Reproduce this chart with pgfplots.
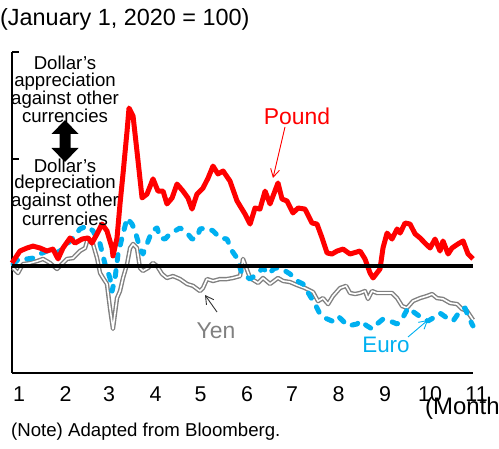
\documentclass[border=0pt]{standalone}
\usepackage{fontspec}
\setmainfont{Liberation Sans}
\usepackage{pgfplots}
\pgfplotsset{compat=1.18}
\usetikzlibrary{arrows.meta}
\definecolor{eurob}{RGB}{0,176,240}
\definecolor{yeng}{RGB}{128,128,128}
\begin{document}
\begin{tikzpicture}
\useasboundingbox (0,0) rectangle (499bp,449bp);
\begin{axis}[
  at={(12bp,76bp)}, anchor=south west,
  scale only axis, width=461bp, height=321bp,
  xmin=0, xmax=307.3, ymin=95, ymax=110,
  clip=false,
  axis x line*=bottom, axis y line*=left,
  axis line style={line width=1.5bp, black},
  xtick={0,31,60,91,121,152,182,213,244,274,305},
  xticklabels={1,2,3,4,5,6,7,8,9,10,11},
  x tick style={draw=none},
  xticklabel style={font=\fontsize{21.5}{24}\selectfont, xshift=7bp, yshift=-10bp},
  ytick={95,100,105,110}, yticklabels={},
  y tick style={line width=1.5bp, black},
  major tick length=7bp, tick align=inside,
]
% Yen
\addplot[draw=yeng, line width=1.4bp, double=white, double distance=1.6bp, line join=round] table {
0.7 99.91
4 99.67
7.3 100.09
12 100.14
16.7 100.23
20.7 100.33
25.3 100.14
30 99.86
33.3 100.09
36.7 100.33
40.7 100.37
45.3 100.70
48.7 100.84
50.7 101.31
54 101.03
56.7 100.37
58.7 99.67
60.7 99.44
63.3 99.16
65.3 98.04
67.3 97.06
70 98.50
72 98.83
74 99.44
76.7 100.09
78.7 100.84
80.7 101.03
83.3 100.84
85.3 99.91
87.3 99.77
90.7 99.91
94 100.14
96.7 100.00
100 99.63
103.3 99.44
107.3 99.53
112 99.39
116.7 99.16
120.7 99.07
125.3 98.83
127.3 98.97
130 99.39
134 99.30
138.7 99.39
143.3 99.39
147.3 99.44
152 99.53
154 100.33
156 99.95
158.7 99.44
164 99.21
167.3 99.44
172 99.16
177.3 99.44
180.7 99.30
185.3 99.25
190 99.11
195.3 98.97
200.7 98.78
204 98.36
207.3 98.50
210.7 98.22
214 98.60
218.7 98.97
222.7 99.07
225.3 98.74
228.7 98.69
232 98.74
235.3 98.83
237.3 98.46
240 98.83
243.3 98.74
247.3 98.74
253.3 98.74
256.7 98.50
260 98.13
263.3 98.04
267.3 98.36
272 98.50
276.7 98.60
280 98.69
283.3 98.50
287.3 98.46
292 98.27
296.7 98.22
300 97.99
303.3 97.90
307.3 97.48
};
% Euro
\addplot[draw=eurob, line width=5bp, line cap=round, line join=round, dash pattern=on 6bp off 10bp] table {
0.7 100.09
5.3 100.37
10 100.33
14 100.37
18.7 100.56
23.3 100.70
27.3 100.56
32 100.70
36.7 101.03
40.7 101.31
45.3 101.73
50 101.87
54 101.64
58.7 101.03
62 100.09
65.3 99.44
66.7 98.83
68.7 99.44
70.7 100.56
73.3 101.31
76.7 102.24
80 101.96
82 101.64
85.3 100.84
87.3 100.56
90 101.03
93.3 101.64
96.7 101.78
98.7 101.31
102 101.26
105.3 101.50
108.7 101.64
112 101.78
116.7 101.54
120 101.26
123.3 101.31
125.3 101.73
130 101.78
134 101.64
138.7 101.31
143.3 101.26
146.7 100.70
150 100.37
153.3 99.63
158.7 99.39
163.3 99.63
167.3 99.91
170.7 99.63
175.3 99.91
180 99.86
185.3 99.63
190 99.30
194 99.16
198.7 98.60
202 98.22
205.3 97.76
208.7 97.57
213.3 97.43
217.3 97.66
224 97.20
230 97.29
232 97.43
236.7 97.20
240 97.06
243.3 97.29
247.3 97.52
252 97.43
256.7 97.29
260 97.52
264 98.04
268.7 97.80
273.3 97.57
277.3 97.43
280.7 97.57
285.3 97.80
290 97.57
294 97.43
298.7 97.90
302 98.04
304 97.66
307.3 97.20
};
% Pound
\addplot[draw=red, line width=5bp, line join=round] table {
0 100.14
5.3 100.70
10 100.84
14 100.93
18.7 100.84
23.3 100.70
27.3 100.79
30.7 100.33
34 100.84
38.7 101.31
42 101.07
46.7 101.26
50.7 101.31
53.3 101.07
56.7 101.50
60 101.96
63.3 101.64
66.7 100.84
67.3 100.47
70 101.31
72 102.90
74 104.30
76.7 106.31
78 107.38
80.7 107.01
83.3 105.37
86.7 103.18
90 103.36
94 104.07
97.3 103.50
100.7 103.50
103.3 102.90
106.7 103.18
110 103.83
114 103.50
117.3 103.18
120 102.66
123.3 103.36
127.3 103.64
130.7 104.11
134 104.67
137.3 104.30
140.7 104.44
145.3 103.97
150 103.04
155.3 102.43
158.7 101.96
162 102.71
165.3 102.66
168.7 103.50
172 102.90
177.3 103.88
180 103.13
183.3 103.04
187.3 102.48
190.7 102.71
195.3 102.66
200 102.01
203.3 101.96
206.7 101.31
210 100.61
213.3 100.56
216.7 100.70
220.7 100.79
225.3 100.56
232 100.70
235.3 100.33
238.7 99.67
240.7 99.44
245.3 99.86
247.3 100.84
250 101.54
253.3 101.26
256.7 101.73
258.7 101.54
262 102.01
265.3 101.96
268.7 101.50
272 101.31
275.3 101.07
278.7 100.84
282 101.26
285.3 100.70
287.3 101.17
290.7 100.56
293.3 100.84
297.3 101.03
300.7 101.17
304 100.56
307.3 100.33
};
% 100 line
\addplot[black, line width=3.5bp] coordinates {(0,100) (307.3,100)};
\end{axis}
% texts
\node[anchor=west, inner sep=0pt, font=\fontsize{23.5}{27}\selectfont] at (0bp,430bp) {(January 1, 2020 = 100)};
\node[anchor=west, inner sep=0pt, font=\fontsize{24}{27}\selectfont] at (425bp,41bp) {(Month)};
\node[anchor=west, inner sep=0pt, font=\fontsize{18.7}{22}\selectfont] at (11bp,17bp) {(Note) Adapted from Bloomberg.};
\node[align=center, inner sep=0pt, font=\fontsize{18.7}{16.5}\selectfont] at (65bp,359.5bp) {Dollar's\\appreciation\\against other\\currencies};
\node[align=center, inner sep=0pt, font=\fontsize{18.7}{16.5}\selectfont] at (65bp,257bp) {Dollar's\\depreciation\\against other\\currencies};
\fill[black] (65bp,329bp) -- (78.5bp,315bp) -- (70.5bp,315bp) -- (70.5bp,301bp) -- (78.5bp,301bp) -- (65bp,287bp) -- (51.5bp,301bp) -- (59.5bp,301bp) -- (59.5bp,315bp) -- (51.5bp,315bp) -- cycle;
\node[text=red, inner sep=0pt, font=\fontsize{23}{27}\selectfont] at (297bp,333bp) {Pound};
\draw[red, line width=0.9bp, -{Straight Barb[length=8bp,width=9bp]}] (285bp,322bp) -- (273bp,271bp);
\node[text=yeng, inner sep=0pt, font=\fontsize{23}{27}\selectfont] at (216bp,118bp) {Yen};
\draw[black!80, line width=0.9bp, -{Straight Barb[length=8bp,width=9bp]}] (217bp,137bp) -- (205bp,154bp);
\node[text=eurob, inner sep=0pt, font=\fontsize{22.5}{27}\selectfont] at (386bp,104bp) {Euro};
\draw[eurob, line width=0.9bp, -{Straight Barb[length=8bp,width=9bp]}] (408bp,112bp) -- (428bp,129bp);
\end{tikzpicture}
\end{document}
